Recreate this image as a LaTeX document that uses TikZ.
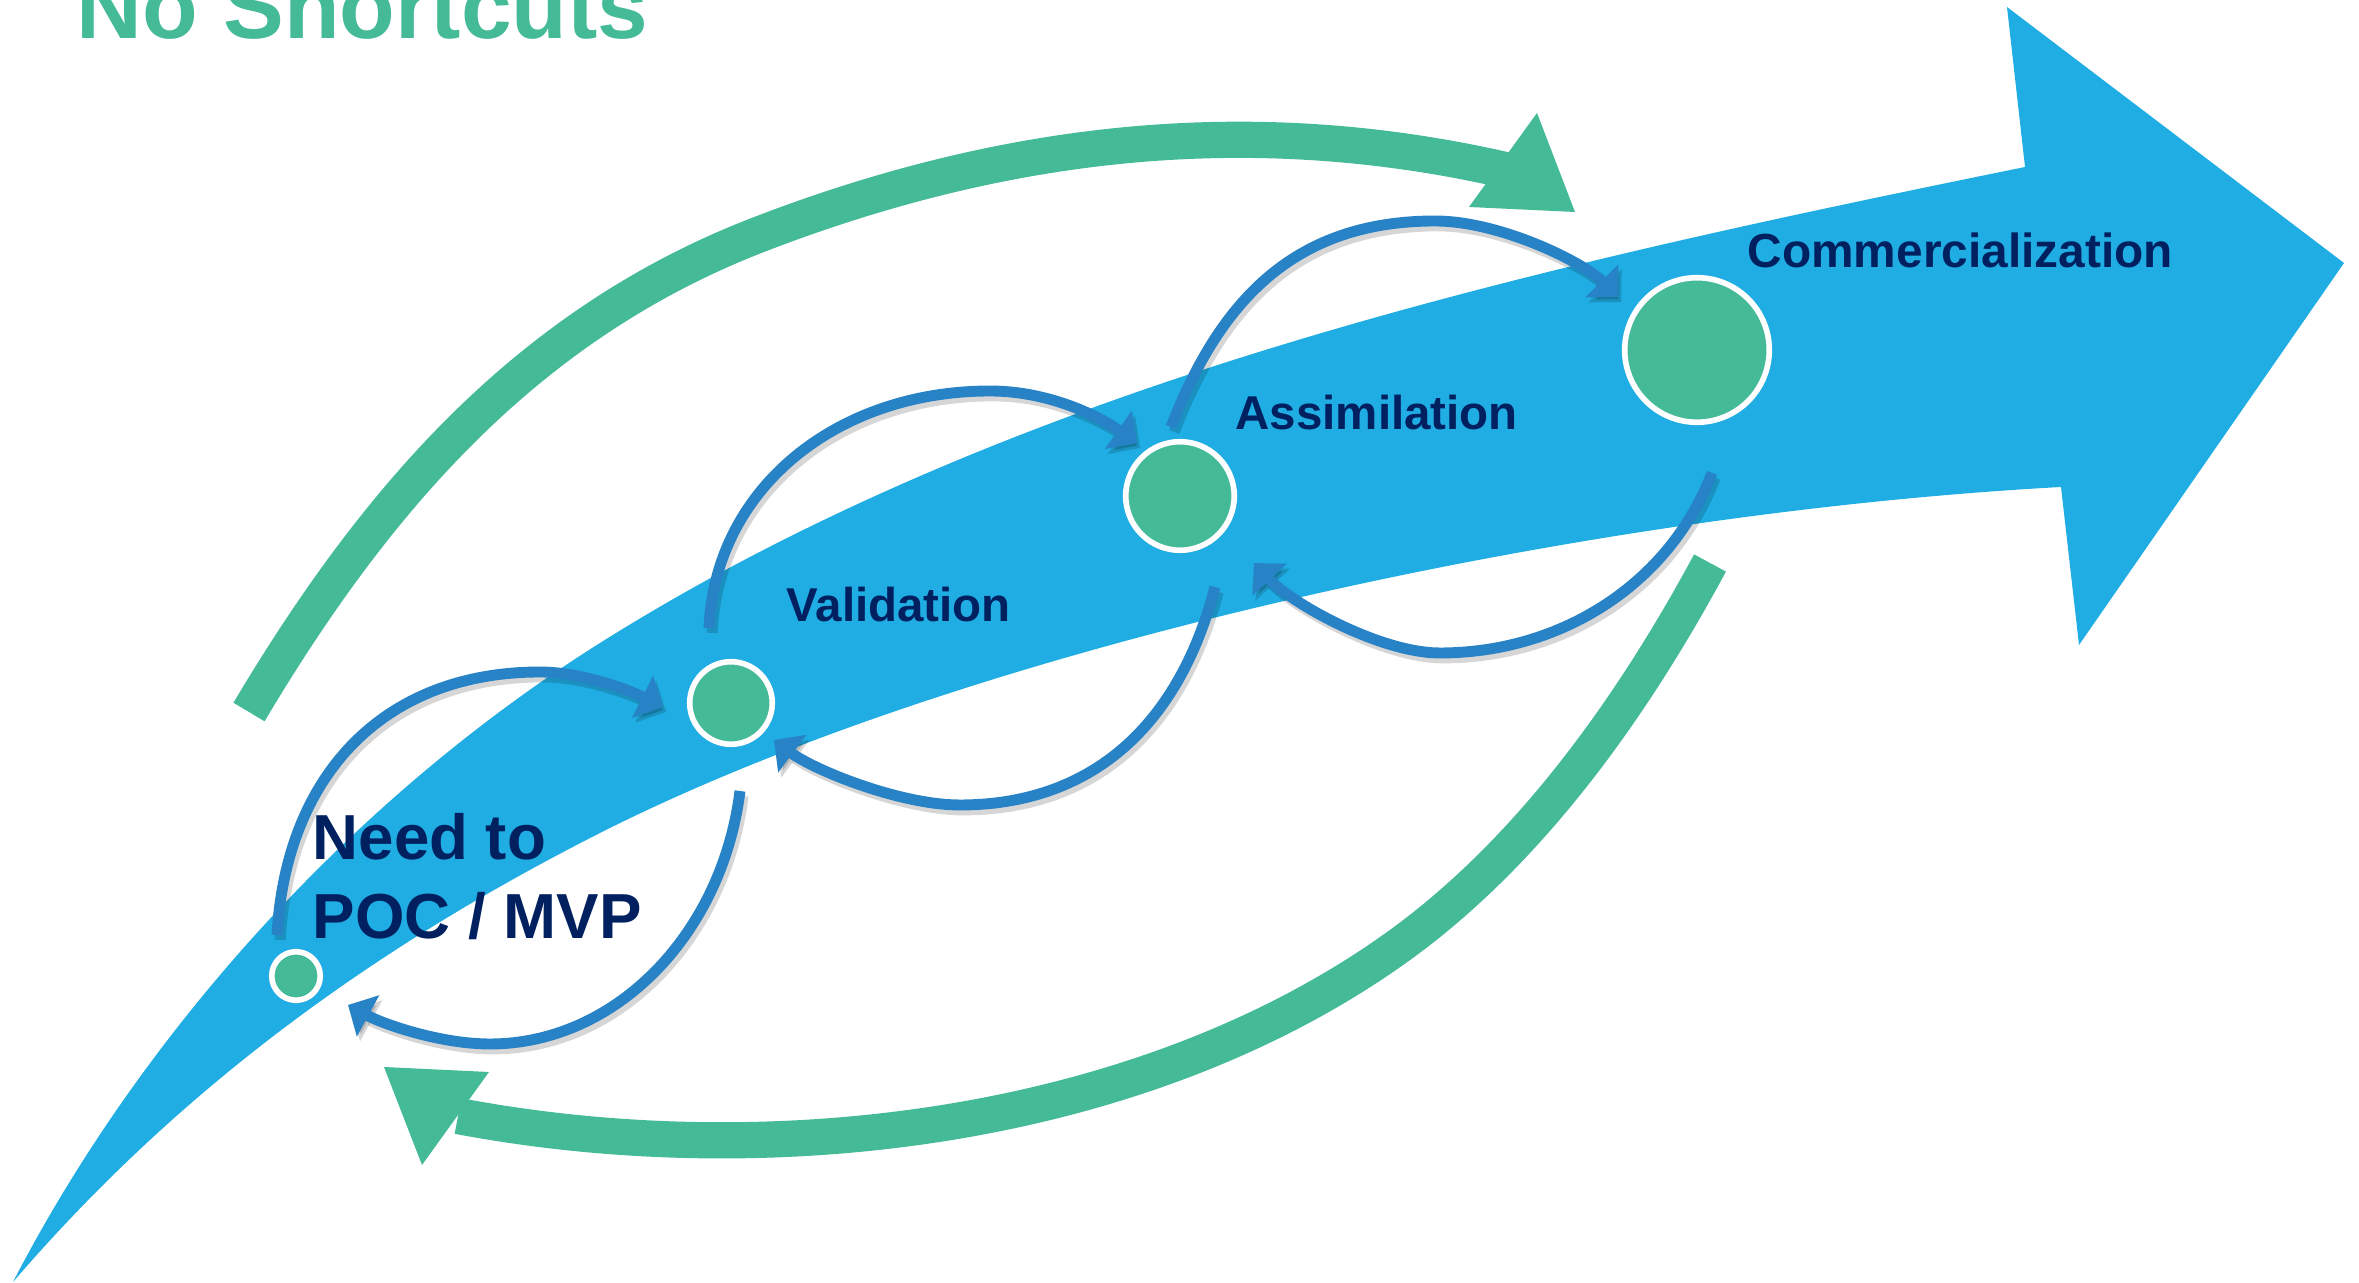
\documentclass[tikz,border=0pt]{standalone}
\usepackage{fontspec}
\setmainfont{Liberation Sans}
\usetikzlibrary{arrows.meta}
\definecolor{band}{RGB}{31,173,227}
\definecolor{leaf}{RGB}{68,187,150}
\definecolor{loopblue}{RGB}{39,130,198}
\definecolor{navy}{RGB}{0,32,96}
\begin{document}
\begin{tikzpicture}[x=0.01cm,y=-0.01cm,
  stage/.style={circle, fill=leaf, draw=white, line width=1.6pt, inner sep=0pt},
  stagetext/.style={inner sep=0pt, anchor=base west, text=navy, font=\bfseries\fontsize{13.5}{16}\selectfont},
  loopline/.style={draw=loopblue, line width=3.1pt, line cap=butt,
    -{Triangle[width=13pt,length=6.5pt]},
    preaction={draw=black, opacity=0.16, line width=3.1pt,
      transform canvas={xshift=0.9pt,yshift=-1.4pt}}},
  bigloop/.style={draw=leaf, line width=10.3pt, line cap=butt},
  headfill/.style={fill=leaf}
]
\useasboundingbox (0,0) rectangle (2359,1283);

% main growth arrow
\fill[band] (13,1282)
  .. controls (145,1027) and (358,795) .. (600,643)
  .. controls (1020,379) and (1539,266) .. (2025,167)
  -- (2007,7) -- (2344,263) -- (2079,645) -- (2061,487)
  .. controls (1567,514) and (960,651) .. (600,833)
  .. controls (383,943) and (185,1082) .. (13,1282)
  -- cycle;

% title
\node[inner sep=0pt, anchor=base west, text=leaf, font=\bfseries\fontsize{25.9}{30}\selectfont] (title) at (76,39) {No Shortcuts};

% big green loops
\coordinate (gtail1) at (249,712);
\coordinate (gend1) at (1505,170);
\draw[bigloop] (gtail1) .. controls (377,497) and (529,322) .. (763,233)
  .. controls (1006,140) and (1250,112) .. (gend1);
\fill[headfill] (1537,113) -- (1575,212) -- (1469,207) -- cycle;

\coordinate (gtail2) at (1710,563);
\coordinate (gend2) at (458,1116);
\draw[bigloop] (gtail2) .. controls (1633,706) and (1531,850) .. (1400,945)
  .. controls (1144,1130) and (770,1175) .. (gend2);
\fill[headfill] (384,1067) -- (489,1072) -- (422,1165) -- cycle;

% stages
\node[stage, minimum size=0.485cm] (need) at (296,976) {};
\node[stage, minimum size=0.825cm] (valid) at (731,703) {};
\node[stage, minimum size=1.085cm] (assim) at (1180,496) {};
\node[stage, minimum size=1.445cm] (comm) at (1697,350) {};

% loop ends beside the stages
\coordinate (f1s) at (277,935);   \coordinate (f1e) at (663,707);
\coordinate (f2s) at (709,628);   \coordinate (f2e) at (1137,443);
\coordinate (f3s) at (1171,427);  \coordinate (f3e) at (1618,297);
\coordinate (b1s) at (740,791);   \coordinate (b1e) at (348,1005);
\coordinate (b2s) at (1215,587);  \coordinate (b2e) at (774,740);
\coordinate (b3s) at (1712,473);  \coordinate (b3e) at (1254,563);

% forward loops (over the top)
\draw[loopline] (f1s) .. controls (286,777) and (382,672) .. (540,672)
  .. controls (580,672) and (627,689) .. (f1e);
\draw[loopline] (f2s) .. controls (715,490) and (835,391) .. (990,391)
  .. controls (1050,391) and (1100,417) .. (f2e);
\draw[loopline] (f3s) .. controls (1218,306) and (1290,221) .. (1435,221)
  .. controls (1500,221) and (1583,262) .. (f3e);

% backward loops (underneath)
\draw[loopline] (b1s) .. controls (722,935) and (615,1044) .. (490,1044)
  .. controls (440,1044) and (383,1024) .. (b1e);
\draw[loopline] (b2s) .. controls (1177,733) and (1085,805) .. (960,805)
  .. controls (900,805) and (814,770) .. (b2e);
\draw[loopline] (b3s) .. controls (1669,585) and (1560,653) .. (1440,653)
  .. controls (1380,653) and (1291,603) .. (b3e);

% stage labels
\node[stagetext, align=left, font=\bfseries\fontsize{18.1}{22.5}\selectfont] (tneed) at (312,939) {Need to\\POC / MVP};
\node[stagetext] (tvalid) at (786,622) {Validation};
\node[stagetext] (tassim) at (1235,430) {Assimilation};
\node[stagetext, font=\bfseries\fontsize{13.6}{16}\selectfont] (tcomm) at (1747,268) {Commercialization};
\end{tikzpicture}
\end{document}
